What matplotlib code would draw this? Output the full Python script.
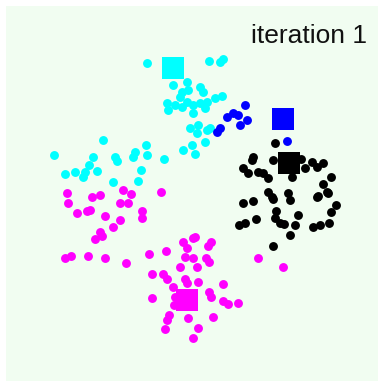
import matplotlib
matplotlib.use('Agg')
import matplotlib.pyplot as plt

# k-means, first iteration: points per cluster and cluster centres
cyan_x = [147, 209, 220, 223, 173, 187, 182, 188, 200, 203, 180, 167, 175, 168, 182, 187, 193, 200,
          205, 193, 215, 222, 207, 190, 198, 197, 207, 210, 183, 192, 195, 205,
          103, 54, 65, 75, 83, 85, 89, 93, 97, 115, 117, 113, 133, 135, 146, 147, 141, 138, 164]
cyan_y = [63, 61, 62, 59, 85, 82, 92, 90, 87, 92, 97, 103, 105, 110, 107, 102, 105, 103,
          108, 113, 98, 96, 102, 128, 125, 133, 130, 128, 150, 145, 154, 142,
          140, 155, 174, 172, 177, 172, 165, 157, 171, 157, 161, 182, 157, 152, 145, 155, 170, 181, 159]

blue_x = [217, 220, 227, 233, 238, 240, 245, 247, 287]
blue_y = [132, 128, 117, 113, 115, 125, 105, 120, 141]

black_x = [275, 253, 252, 273, 301, 312, 317, 323, 305, 243, 248, 258, 263, 268, 292, 331, 323, 327,
           317, 268, 272, 273, 288, 290, 243, 253, 336, 331, 276, 298, 256, 275, 280, 284, 295,
           239, 245, 313, 320, 329, 290, 273, 318, 328]
black_y = [143, 157, 160, 160, 159, 162, 167, 163, 168, 168, 173, 172, 173, 178, 177, 177, 184, 192,
           197, 192, 197, 199, 193, 200, 203, 201, 205, 212, 211, 215, 219, 218, 223, 224, 225,
           225, 223, 227, 225, 223, 235, 246, 196, 193]

magenta_x = [67, 68, 77, 87, 90, 92, 100, 105, 120, 128, 120, 113, 100, 102, 95, 142, 142, 161,
             123, 131, 65, 71, 88, 105, 126, 149, 166,
             183, 187, 195, 193, 211, 208, 185, 193, 206, 209, 180, 197, 152, 163, 167, 185, 187,
             198, 173, 223, 152, 175, 174, 209, 211, 223, 228, 238, 169, 167, 188, 213, 165, 198,
             193, 258, 283]
magenta_y = [193, 203, 213, 211, 210, 197, 195, 216, 203, 203, 220, 227, 232, 236, 239, 211, 218, 192,
             190, 194, 258, 256, 256, 258, 263, 254, 251,
             242, 248, 237, 238, 242, 246, 257, 258, 258, 262, 267, 267, 274, 274, 279, 279, 283,
             282, 287, 284, 298, 297, 305, 292, 297, 301, 304, 303, 315, 320, 318, 317, 329, 328,
             338, 258, 267]

centre_x = [173, 283, 289, 187]
centre_y = [68, 119, 163, 300]
colours = ['#00ffff', '#0000ff', '#000000', '#ff00ff']

fig = plt.figure(figsize=(3.78, 3.81), dpi=100)
ax = fig.add_axes([6 / 378, 0, 372 / 378, 375 / 381])
ax.set_facecolor('#f1fdf1')

groups = [(cyan_x, cyan_y), (blue_x, blue_y), (black_x, black_y), (magenta_x, magenta_y)]
for (gx, gy), c in zip(groups, colours):
    ax.plot(gx, gy, 'o', color=c, markersize=6.4, markeredgewidth=0)

for cx, cy, c in zip(centre_x, centre_y, colours):
    ax.plot(cx, cy, 's', color=c, markersize=15.5, markeredgewidth=0)

ax.set_xlim(6, 378)
ax.set_ylim(381, 6)
ax.set_xticks([])
ax.set_yticks([])
for s in ax.spines.values():
    s.set_visible(False)

ax.text(367, 43, 'iteration 1', ha='right', va='baseline', fontsize=19,
        family='Liberation Sans', color='#111111')

fig.savefig('out.png', dpi=100, facecolor='white')
